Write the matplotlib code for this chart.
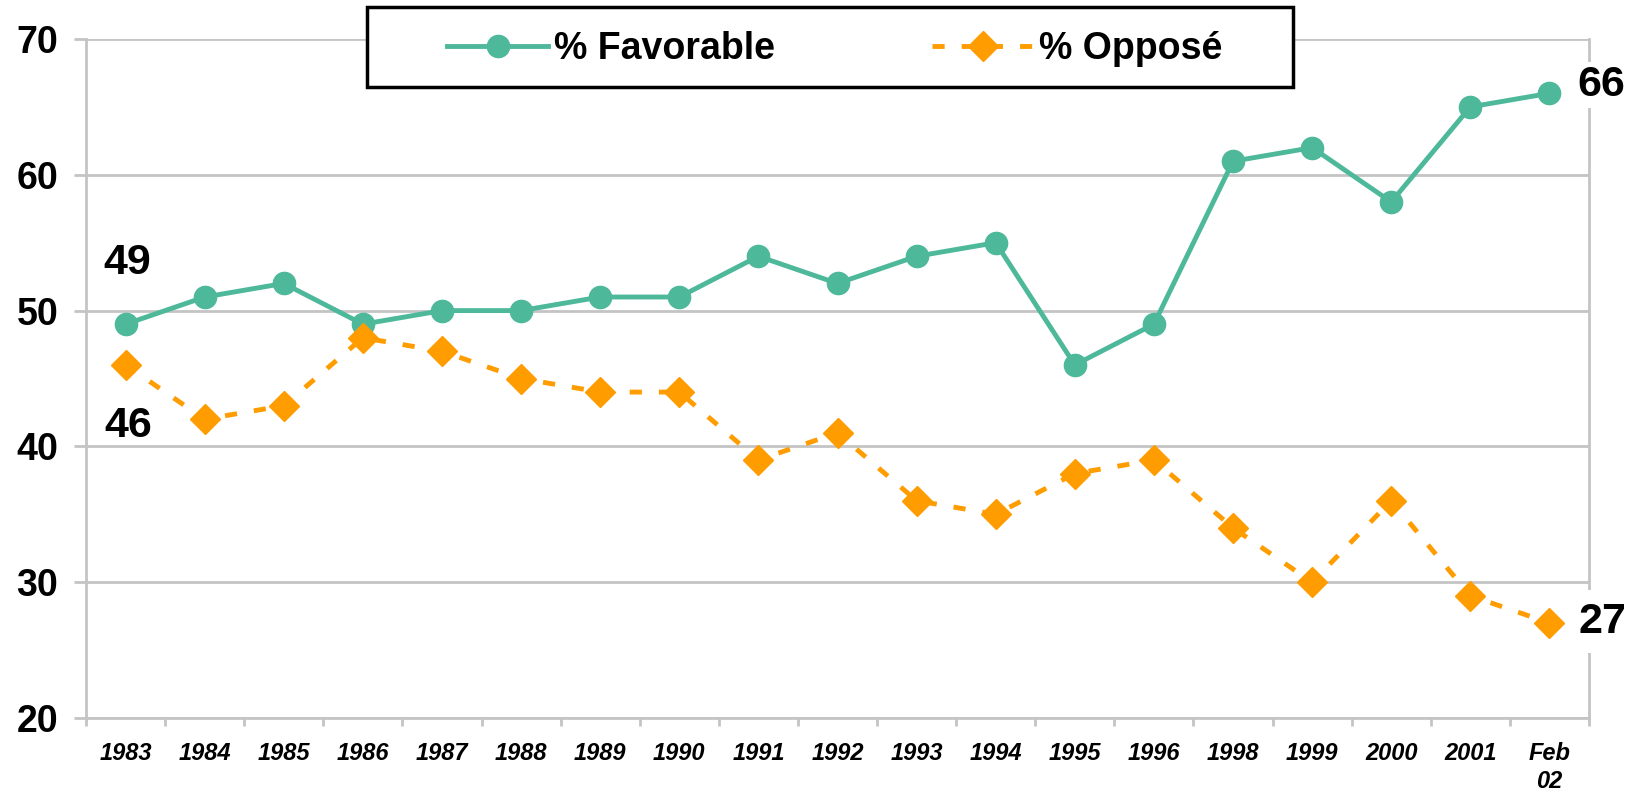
import matplotlib
matplotlib.use("Agg")
import matplotlib.pyplot as plt
from matplotlib.patches import Rectangle
import numpy as np

plt.rcParams['font.family'] = ['Liberation Sans', 'DejaVu Sans']
plt.rcParams['font.weight'] = 'bold'

years = ['1983', '1984', '1985', '1986', '1987', '1988', '1989', '1990', '1991',
         '1992', '1993', '1994', '1995', '1996', '1998', '1999', '2000', '2001', 'Feb\n02']
favorable = [49, 51, 52, 49, 50, 50, 51, 51, 54, 52, 54, 55, 46, 49, 61, 62, 58, 65, 66]
oppose = [46, 42, 43, 48, 47, 45, 44, 44, 39, 41, 36, 35, 38, 39, 34, 30, 36, 29, 27]
y_ticks = [20, 30, 40, 50, 60, 70]

green = '#4db89a'
orange = '#ff9c00'
grid_gray = '#c4c4c4'

fig = plt.figure(figsize=(16.42, 7.95), dpi=100)
ax = fig.add_axes([86/1642, 1-718/795, (1589-86)/1642, (718-39)/795])

x = np.arange(len(years))
ax.plot(x, favorable, color=green, lw=3.5, marker='o', ms=16, mec=green, mfc=green,
        label='% Favorable', zorder=3)
ax.plot(x, oppose, color=orange, lw=3.5, ls=(0, (2.5, 3.5)), marker='D', ms=15,
        mec=orange, mfc=orange, label='% Opposé', zorder=3)

ax.set_xlim(-0.5, len(years)-0.5)
ax.set_ylim(20, 70)
ax.set_yticks(y_ticks)
ax.set_yticklabels([str(v) for v in y_ticks], fontsize=27, fontweight='bold')
ax.grid(axis='y', color=grid_gray, lw=2)
ax.set_axisbelow(True)
ax.tick_params(axis='y', length=9, width=2, color=grid_gray, pad=11)

ax.set_xticks(x)
ax.set_xticklabels(years, fontsize=17, fontweight='bold', fontstyle='italic',
                   linespacing=1.3, va='top')
ax.set_xticks(np.arange(len(years)+1) - 0.5, minor=True)
ax.tick_params(axis='x', which='major', length=0, pad=17)
ax.tick_params(axis='x', which='minor', length=6, width=2, color=grid_gray)

for s in ['left', 'right', 'bottom']:
    ax.spines[s].set_color(grid_gray)
    ax.spines[s].set_linewidth(2)
ax.spines['top'].set_visible(False)

# end labels
lab = dict(fontsize=31, fontweight='bold', ha='center', va='center',
           textcoords='offset points', zorder=5)
ax.annotate(str(favorable[0]), (0, favorable[0]), xytext=(1, 44), **lab)
ax.annotate(str(oppose[0]), (0, oppose[0]), xytext=(2, -44), **lab)
ax.annotate(str(favorable[-1]), (x[-1], favorable[-1]), xytext=(37, 6),
            bbox=dict(fc='white', ec='none', pad=2), **lab)
ax.annotate(str(oppose[-1]), (x[-1], oppose[-1]), xytext=(38, 1),
            bbox=dict(fc='white', ec='none', pad=8), **lab)

# legend with its own box
box = Rectangle((367/1642, 1-87/795), (1293-367)/1642, 80/795, transform=fig.transFigure,
                fc='white', ec='black', lw=2.5, zorder=10)
fig.patches.append(box)
leg = ax.legend(loc='center', bbox_to_anchor=((367+1293)/2/1642 + 0.003, 1-49/795),
                bbox_transform=fig.transFigure, ncol=2, frameon=False,
                prop={'size': 27, 'weight': 'bold'}, handlelength=2.7,
                handletextpad=0.15, columnspacing=4.2, borderaxespad=0)
leg.remove()
fig.legends.append(leg)
leg.set_zorder(11)

fig.savefig('out.png', dpi=100, facecolor='white')
